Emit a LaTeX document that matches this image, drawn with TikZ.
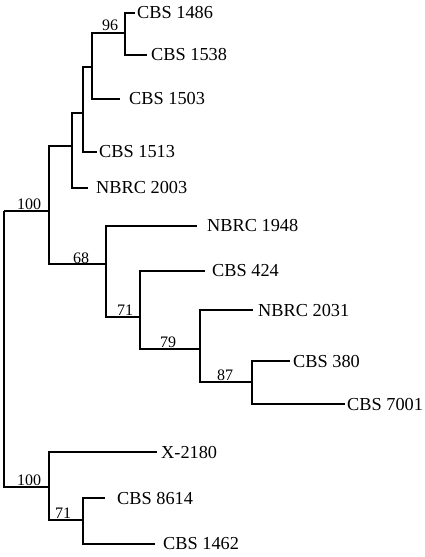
\documentclass[tikz,border=0pt]{standalone}
\usepackage{fontspec}
\setmainfont{Liberation Serif}
\begin{document}
\begin{tikzpicture}[x=1pt,y=-1pt,
  br/.style={line width=1.3pt},
  leaf/.style={anchor=west,inner sep=0pt,font=\fontsize{18.3}{20}\selectfont},
  boot/.style={anchor=base,inner sep=0pt,font=\fontsize{16}{18}\selectfont}]
\useasboundingbox (0,0) rectangle (425,557);
% internal nodes (x, entry y)
\coordinate (root) at (4,211);
\coordinate (nA) at (49,211);
\coordinate (n4) at (72,146);
\coordinate (n3) at (83,113);
\coordinate (n2) at (92,67);
\coordinate (n96) at (125,33);
\coordinate (n68) at (106,264);
\coordinate (n71) at (140,317);
\coordinate (n79) at (200,349);
\coordinate (n87) at (252,382);
\coordinate (nB) at (49,487);
\coordinate (n71b) at (83,520);
% leaf ends
\coordinate (e1486) at (135,13);
\coordinate (e1538) at (147,55);
\coordinate (e1503) at (120,99);
\coordinate (e1513) at (97,152);
\coordinate (e2003) at (88,188);
\coordinate (e1948) at (197,226);
\coordinate (e424) at (205,271);
\coordinate (e2031) at (253,310);
\coordinate (e380) at (290,361);
\coordinate (e7001) at (345,404);
\coordinate (e2180) at (157,452);
\coordinate (e8614) at (105,498);
\coordinate (e1462) at (155,544);
% leaf labels
\node[leaf] (l1486) at (137,13) {CBS 1486};
\node[leaf] (l1538) at (151,55) {CBS 1538};
\node[leaf] (l1503) at (129,99) {CBS 1503};
\node[leaf] (l1513) at (99,152) {CBS 1513};
\node[leaf] (l2003) at (96,188) {NBRC 2003};
\node[leaf] (l1948) at (207,226) {NBRC 1948};
\node[leaf] (l424) at (212,271) {CBS 424};
\node[leaf] (l2031) at (258,310) {NBRC 2031};
\node[leaf] (l380) at (293,361) {CBS 380};
\node[leaf] (l7001) at (347,404) {CBS 7001};
\node[leaf] (l2180) at (161,452) {X-2180};
\node[leaf] (l8614) at (117,498) {CBS 8614};
\node[leaf] (l1462) at (163,544) {CBS 1462};
% branches
\draw[br] (root) |- (nA);
\draw[br] (root) |- (nB);
\draw[br] (nA) |- (n4);
\draw[br] (nA) |- (n68);
\draw[br] (n4) |- (n3);
\draw[br] (n4) |- (e2003);
\draw[br] (n3) |- (n2);
\draw[br] (n3) |- (e1513);
\draw[br] (n2) |- (n96);
\draw[br] (n2) |- (e1503);
\draw[br] (n96) |- (e1486);
\draw[br] (n96) |- (e1538);
\draw[br] (n68) |- (e1948);
\draw[br] (n68) |- (n71);
\draw[br] (n71) |- (e424);
\draw[br] (n71) |- (n79);
\draw[br] (n79) |- (e2031);
\draw[br] (n79) |- (n87);
\draw[br] (n87) |- (e380);
\draw[br] (n87) |- (e7001);
\draw[br] (nB) |- (e2180);
\draw[br] (nB) |- (n71b);
\draw[br] (n71b) |- (e8614);
\draw[br] (n71b) |- (e1462);
% bootstrap values
\node[boot] (b96) at (110,30) {96};
\node[boot] (b100a) at (29,209) {100};
\node[boot] (b68) at (81,263) {68};
\node[boot] (b71) at (125,315) {71};
\node[boot] (b79) at (168,347) {79};
\node[boot] (b87) at (225,380) {87};
\node[boot] (b100b) at (29,485) {100};
\node[boot] (b71b) at (63,518) {71};
\end{tikzpicture}
\end{document}
